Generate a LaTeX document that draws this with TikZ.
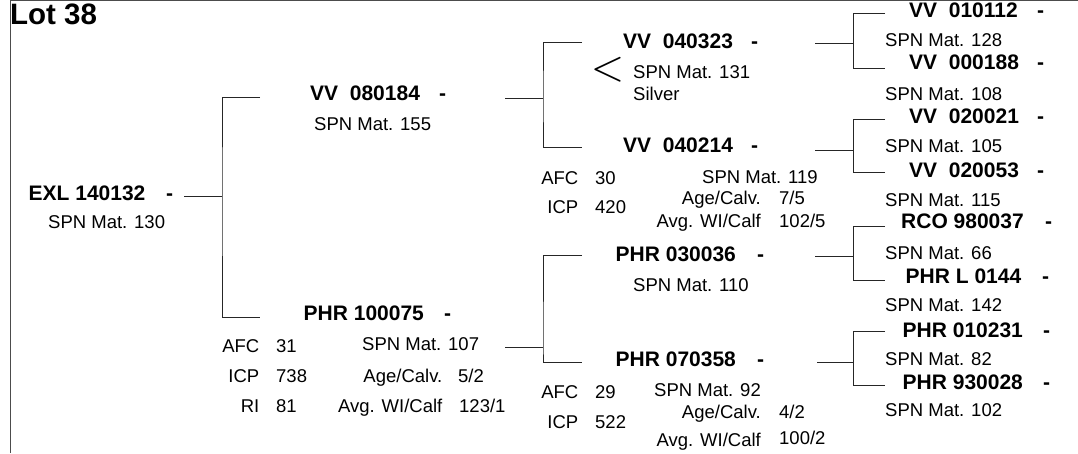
\documentclass[tikz,border=0pt]{standalone}
\usepackage{fontspec}
\setmainfont{Liberation Sans}
\begin{document}
\begin{tikzpicture}[x=1pt,y=-1pt,
  idt/.style={anchor=base west,inner sep=0pt,font=\fontsize{21}{25}\selectfont\bfseries},
  txt/.style={anchor=base west,inner sep=0pt,font=\fontsize{18.5}{22}\selectfont},
  txtr/.style={anchor=base east,inner sep=0pt,font=\fontsize{18.5}{22}\selectfont},
  conn/.style={draw=black!85,line width=0.9pt},
  frameline/.style={draw=black!70,line width=1pt}]
\useasboundingbox (0,0) rectangle (1078,453);
% frame (cropped page border)
\draw[frameline] (10.5,453) -- (10.5,0.5) -- (1078,0.5);
\node[anchor=base west,inner sep=0pt,font=\fontsize{29.5}{33}\selectfont\bfseries] (lot) at (10,24) {Lot 38};

% ---- generation 1
\node[idt] (exl) at (28.5,200) {EXL 140132};
\node[idt] (exld) at (166,200) {-};
\node[txt] (exls) at (48,228) {SPN Mat. 130};

% ---- generation 2
\node[idt] (vv080184) at (310,100) {VV\ \ 080184};
\node[idt] (vv080184d) at (439,100) {-};
\node[txt] (vv080184s) at (314,130) {SPN Mat. 155};

\node[idt] (phr100075) at (303.5,320) {PHR 100075};
\node[idt] (phr100075d) at (444,320) {-};
\node[txt] (phr100075s) at (362,350) {SPN Mat. 107};
\node[txtr] (afc1) at (259.5,352) {AFC};
\node[txt] (afc1v) at (276,352) {31};
\node[txtr] (icp1) at (259.5,382) {ICP};
\node[txt] (icp1v) at (276,382) {738};
\node[txtr] (ri1) at (259.5,412) {RI};
\node[txt] (ri1v) at (276,412) {81};
\node[txtr] (age1) at (442.5,382) {Age/Calv.};
\node[txt] (age1v) at (458,382) {5/2};
\node[txtr] (wi1) at (442.5,412) {Avg. WI/Calf};
\node[txt] (wi1v) at (459,412) {123/1};

% ---- generation 3
\node[idt] (vv040323) at (623,48) {VV\ \ 040323};
\node[idt] (vv040323d) at (751,48) {-};
\node[inner sep=0pt] (lt) at (607.5,69.5) {\scalebox{4.3}{$<$}};
\node[txt] (vv040323s) at (633,78) {SPN Mat. 131};
\node[txt] (silver) at (633,100) {Silver};

\node[idt] (vv040214) at (623,152) {VV\ \ 040214};
\node[idt] (vv040214d) at (751,152) {-};
\node[txt] (vv040214s) at (702,183) {SPN Mat. 119};
\node[txtr] (afc2) at (578.5,184) {AFC};
\node[txt] (afc2v) at (595,184) {30};
\node[txtr] (icp2) at (578.5,213) {ICP};
\node[txt] (icp2v) at (595,213) {420};
\node[txtr] (age2) at (761,204) {Age/Calv.};
\node[txt] (age2v) at (779,204) {7/5};
\node[txtr] (wi2) at (761,227) {Avg. WI/Calf};
\node[txt] (wi2v) at (779,227) {102/5};

\node[idt] (phr030036) at (615.5,261) {PHR 030036};
\node[idt] (phr030036d) at (757,261) {-};
\node[txt] (phr030036s) at (633,291) {SPN Mat. 110};

\node[idt] (phr070358) at (615.5,366) {PHR 070358};
\node[idt] (phr070358d) at (757,366) {-};
\node[txtr] (phr070358s) at (761,396) {SPN Mat. 92};
\node[txtr] (afc3) at (578.5,398) {AFC};
\node[txt] (afc3v) at (595,398) {29};
\node[txtr] (icp3) at (578.5,428) {ICP};
\node[txt] (icp3v) at (595,428) {522};
\node[txtr] (age3) at (761,418) {Age/Calv.};
\node[txt] (age3v) at (779,418) {4/2};
\node[txtr] (wi3) at (761,446) {Avg. WI/Calf};
\node[txt] (wi3v) at (779,444) {100/2};

% ---- generation 4
\node[idt] (vv010112) at (909,17) {VV\ \ 010112};
\node[idt] (vv010112d) at (1037,17) {-};
\node[txt] (vv010112s) at (885,46.5) {SPN Mat. 128};
\node[idt] (vv000188) at (909,69) {VV\ \ 000188};
\node[idt] (vv000188d) at (1037,69) {-};
\node[txt] (vv000188s) at (885,100) {SPN Mat. 108};
\node[idt] (vv020021) at (909,123) {VV\ \ 020021};
\node[idt] (vv020021d) at (1037,123) {-};
\node[txt] (vv020021s) at (885,152) {SPN Mat. 105};
\node[idt] (vv020053) at (909,177) {VV\ \ 020053};
\node[idt] (vv020053d) at (1037,177) {-};
\node[txt] (vv020053s) at (885,206) {SPN Mat. 115};
\node[idt] (rco980037) at (901,228) {RCO 980037};
\node[idt] (rco980037d) at (1045,228) {-};
\node[txt] (rco980037s) at (885,259) {SPN Mat. 66};
\node[idt] (phrl0144) at (905.5,283) {PHR L 0144};
\node[idt] (phrl0144d) at (1042,283) {-};
\node[txt] (phrl0144s) at (885,311) {SPN Mat. 142};
\node[idt] (phr010231) at (902.5,337) {PHR 010231};
\node[idt] (phr010231d) at (1043,337) {-};
\node[txt] (phr010231s) at (885,365) {SPN Mat. 82};
\node[idt] (phr930028) at (902.5,389) {PHR 930028};
\node[idt] (phr930028d) at (1043,389) {-};
\node[txt] (phr930028s) at (885,416) {SPN Mat. 102};

% ---- connectors
\coordinate (sA) at (184,196);  \coordinate (fA) at (222,196);
\coordinate (fAt) at (260,97);  \coordinate (fAb) at (260,317);
\draw[conn] (sA) -- (fA);
\draw[conn] (fAt) -| (fA) |- (fAb);

\coordinate (sB) at (505,98);   \coordinate (fB) at (543,98);
\coordinate (fBt) at (582,42);  \coordinate (fBb) at (582,147);
\draw[conn] (sB) -- (fB);
\draw[conn] (fBt) -| (fB) |- (fBb);

\coordinate (sC) at (505,347);  \coordinate (fC) at (543,347);
\coordinate (fCt) at (582,255); \coordinate (fCb) at (582,362);
\draw[conn] (sC) -- (fC);
\draw[conn] (fCt) -| (fC) |- (fCb);

\coordinate (sD) at (815,43);   \coordinate (fD) at (853,43);
\coordinate (fDt) at (885,13);  \coordinate (fDb) at (885,68);
\draw[conn] (sD) -- (fD);
\draw[conn] (fDt) -| (fD) |- (fDb);

\coordinate (sE) at (815,150);  \coordinate (fE) at (853,150);
\coordinate (fEt) at (885,119); \coordinate (fEb) at (885,172);
\draw[conn] (sE) -- (fE);
\draw[conn] (fEt) -| (fE) |- (fEb);

\coordinate (sF) at (815,256);  \coordinate (fF) at (853,256);
\coordinate (fFt) at (885,226); \coordinate (fFb) at (885,280);
\draw[conn] (sF) -- (fF);
\draw[conn] (fFt) -| (fF) |- (fFb);

\coordinate (sG) at (817,362);  \coordinate (fG) at (853,362);
\coordinate (fGt) at (885,331); \coordinate (fGb) at (885,385);
\draw[conn] (sG) -- (fG);
\draw[conn] (fGt) -| (fG) |- (fGb);
\end{tikzpicture}
\end{document}
